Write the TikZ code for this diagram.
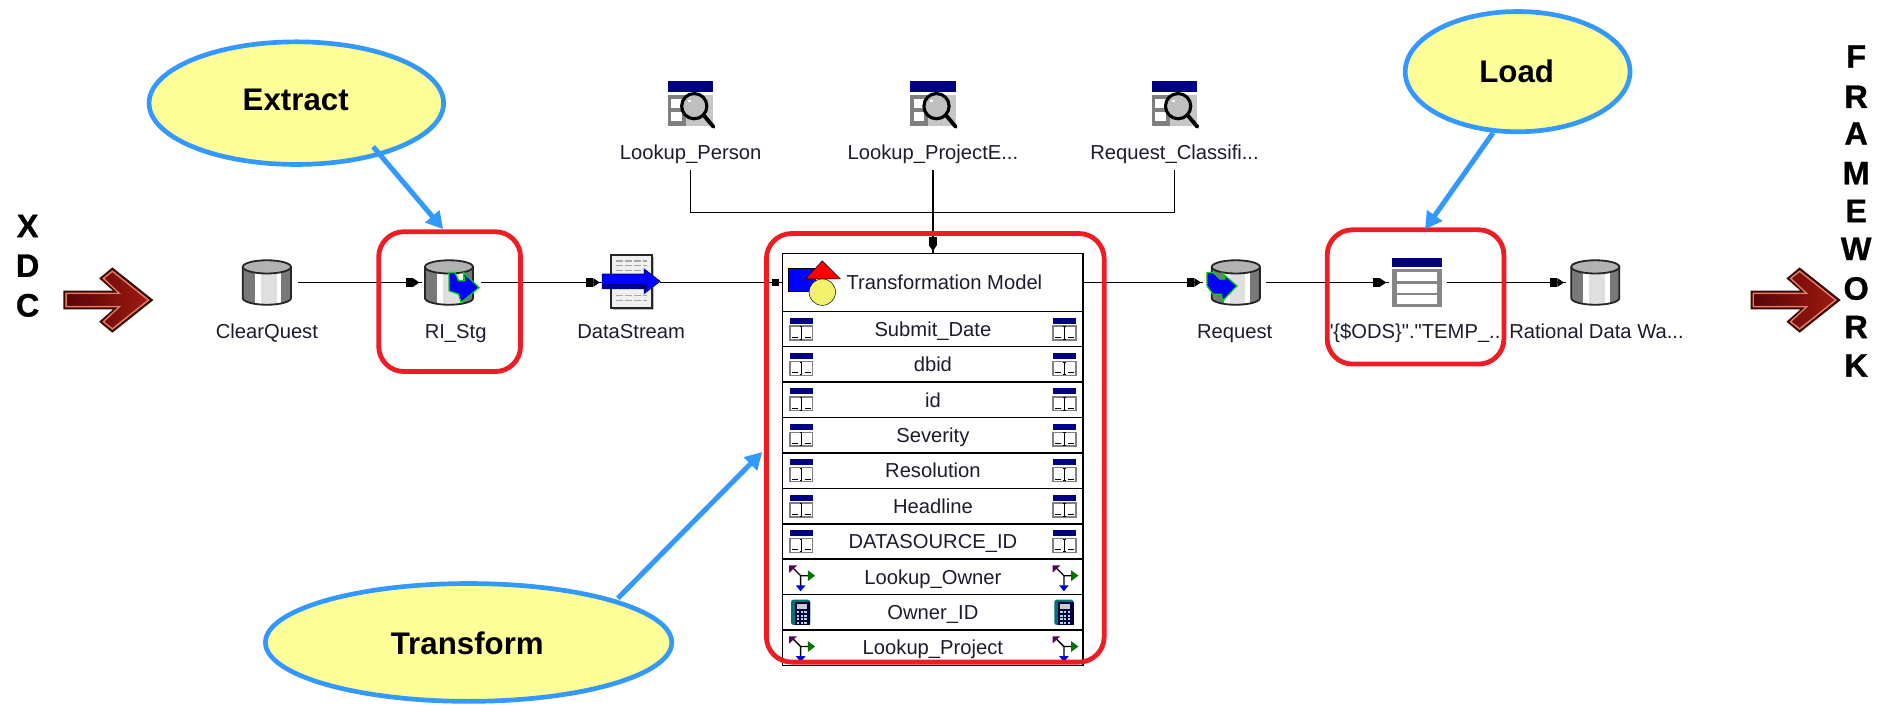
\documentclass[tikz,border=0pt]{standalone}
\usepackage{fontspec}
\setmainfont{Liberation Sans}[Ligatures=TeXOff]
\newfontfamily\heavyface{Liberation Sans}[Ligatures=TeXOff,BoldFeatures={FakeBold=0.8}]
\usetikzlibrary{shapes.geometric,arrows.meta,decorations.markings,calc}
\definecolor{navbar}{HTML}{000080}
\definecolor{callblue}{HTML}{3399FF}
\definecolor{callfill}{HTML}{FFFF99}
\definecolor{redbox}{HTML}{EE1C25}
\definecolor{labelink}{HTML}{1C1C2C}
\definecolor{maroonA}{HTML}{5A0408}
\definecolor{maroonB}{HTML}{9A1A10}
\definecolor{maroonE}{HTML}{3A0A00}
\definecolor{salmon}{HTML}{E87C68}
\tikzset{
  x=1pt,y=-1pt,
  iconnode/.style={inner sep=0,outer sep=0,minimum height=38},
  lbl/.style={font=\fontsize{16.8}{18}\selectfont,text=labelink,inner sep=0,outer sep=0,minimum height=28,text height=13,text depth=2},
  rowlbl/.style={font=\fontsize{16.8}{18}\selectfont,text=labelink,inner sep=0,text height=13,text depth=1},
  callout/.style={ellipse,draw=callblue,fill=callfill,line width=3.9,inner sep=0},
  calltext/.style={font=\fontsize{26}{28}\selectfont\bfseries},
  callarrow/.style={draw=callblue,line width=4.2,-{Triangle[length=14,width=15]}},
  redframe/.style={draw=redbox,line width=4,rounded corners=21,inner sep=0},
  letter/.style={font=\fontsize{27}{28}\heavyface\bfseries,inner sep=0},
  tipmark/.style={postaction={decorate,decoration={markings,mark=at position -0.5pt with {
     \fill[black] (-13,-3.6) rectangle (-7,3.6);
     \fill[black] (-7,-3.6) -- (-1.5,0) -- (-7,3.6) -- cycle;}}}},
  shortmark/.style={postaction={decorate,decoration={markings,mark=at position -3pt with {
     \fill[black] (-6,-3) rectangle (0,3);}}}},
  conn/.style={draw=black,line width=1.2},
  rowcell/.style={draw=black,line width=1.2,minimum width=250,minimum height=29.45,inner sep=0,outer sep=0},
  bigarrow/.pic={
    \path[left color=maroonA,right color=maroonB,draw=maroonE,line width=2.6,line join=miter]
      (-71.5,-6.5) -- (-28,-6.5) -- (-41,-18) -- (-32,-25.5) -- (0,0) -- (-32,25.5) -- (-41,18) -- (-28,6.5) -- (-71.5,6.5) -- cycle;
    \draw[salmon,line width=1.2]
      (-70.5,-5.5) -- (-26,-5.5) -- (-39.5,-18) -- (-32,-24) -- (-2,0) -- (-32,24) -- (-39.5,18) -- (-26,5.5) -- (-70.5,5.5) -- cycle;
    \path[left color=maroonA,right color=maroonB] (-69.5,-4.5) -- (-24,-4.5) -- (-38,-18) -- (-32,-22.5) -- (-4,0) -- (-32,22.5) -- (-38,18) -- (-24,4.5) -- (-69.5,4.5) -- cycle;
  },
  cylicon/.pic={
    \fill[gray!95!black] (-20,-13) -- (-20,13) arc[x radius=20,y radius=-5.5,start angle=180,end angle=360] -- (20,-13) -- cycle;
    \fill[white] (-10,-8) rectangle (-5,17.5);
    \fill[gray!25] (-5,-8) rectangle (8,18.5);
    \fill[white] (8,-8) rectangle (12,17);
    \draw[black!85,line width=1.5] (-20,-13) -- (-20,13) arc[x radius=20,y radius=-5.5,start angle=180,end angle=360] -- (20,-13);
    \draw[black!85,line width=1.5,fill=gray!60] (0,-13) ellipse[x radius=20,y radius=5.5];
  },
  outarrow/.pic={
    \draw[green!85!black,line width=1,fill=blue] (0,-8.3) -- (5,-8.3) -- (8,-1.5) -- (13,-1.5) -- (12,-8.3) -- (25,4.2) -- (10,16.7) -- (8,9.7) -- (0,7) -- cycle;
  },
  inarrow/.pic={
    \draw[green!85!black,line width=1,fill=blue] (-24,-8.3) -- (-19,-8.3) -- (-13,-2.8) -- (-9,-2.8) -- (-11,-7.5) -- (1,2.8) -- (-11,15.3) -- (-12,9.7) -- (-19,9.7) -- (-24,2.8) -- cycle;
  },
  streamicon/.pic={
    \fill[gray!55] (-15,-21) rectangle (19,23);
    \draw[black!85,line width=1.6,fill=gray!12] (-17,-23) rectangle (17,21);
    \foreach \yy in {-18,-14,-10,11,15} {\draw[gray!70,line width=1.2,dash pattern=on 6 off 1.5] (-13,\yy) -- (13,\yy);}
    \draw[blue!60!black,line width=.8,fill=blue] (-24,-7) -- (11,-7) -- (11,-11) -- (24,-1) -- (11,9) -- (11,5) -- (-24,5) -- cycle;
    \fill[blue!55!black] (-24,1) -- (13,1) -- (13,5) -- (-24,5) -- cycle;
  },
  lookicon/.pic={
    \fill[navbar] (-19,-20) rectangle (19,-10.8);
    \fill[gray!45] (-19,-8) rectangle (19,17.5);
    \fill[gray] (-19,-8) rectangle (-4,17.5);
    \fill[white] (-16,-5) rectangle (-7,2.5);
    \fill[white] (-16,6) rectangle (-7,14);
    \fill[gray!45] (-4,-8) rectangle (19,17.5);
    \draw[black,line width=3.2,line cap=round] (11,9) -- (19,18.5);
    \draw[black,line width=2.6,fill=gray!50] (3,1.3) circle[radius=10.5];
    \fill[white] (-2,-4) rectangle (0,-2);
  },
  tableicon/.pic={
    \fill[navbar] (-20.4,-20.3) rectangle (20.4,-12.5);
    \fill[gray!95] (-20.4,-11) rectangle (20.4,20);
    \fill[white] (-17,-9) rectangle (17,-1.5);
    \fill[white] (-17,1.3) rectangle (17,8.4);
    \fill[white] (-17,10.6) rectangle (17,17.9);
  },
  colicon/.pic={
    \fill[navbar] (-9.5,-9.5) rectangle (9.5,-4.5);
    \draw[gray,line width=1.2,fill=white] (-9.5,-2.5) rectangle (9.5,9);
    \draw[black,line width=.8] (-1,-2) -- (1,-2) (0,-2) -- (0,8.5) (-1,8.5) -- (1,8.5) (-8,7) -- (-3,7) (3,7) -- (8,7);
  },
  lookrow/.pic={
    \draw[black,line width=1.1] (-7,-8) -- (0,-1) -- (8,-1) (0,-1) -- (0,8);
    \fill[violet!70!black] (-9.5,-9.5) -- (-3,-9.5) -- (-9.5,-3.5) -- cycle;
    \fill[green!45!black] (6,-5.5) -- (12,-1) -- (6,3.5) -- cycle;
    \fill[blue!85!black] (-4,7) -- (4,7) -- (0,12) -- cycle;
  },
  calcicon/.pic={
    \fill[teal!90!black,rounded corners=2] (-8,-10.5) rectangle (8,10.5);
    \fill[blue!25!black] (-5,-8.5) rectangle (8,10.5);
    \fill[gray!40] (-3,-7) rectangle (5,-3);
    \foreach \yy in {-1,2,5,8} {\foreach \xx in {-3,0,3} {\fill[teal!30] (\xx,\yy) rectangle ++(2,1.6);}}
  }
}
\begin{document}
\begin{tikzpicture}
\useasboundingbox (0,0) rectangle (1568,586);
\fill[white] (0,0) rectangle (1568,586);

% side letters
\foreach \t/\yy [count=\i] in {X/188,D/221,C/254} {\node[letter] (xdc\i) at (23,\yy) {\t};}
\foreach \t/\yy [count=\i] in {F/47,R/80.5,A/111,M/144,E/175.5,W/207,O/240,R/272,K/304} {\node[letter] (fw\i) at (1544,\yy) {\t};}
\pic at (125.5,249.6) {bigarrow};
\pic at (1529,249.6) {bigarrow};

% icon nodes
\node[iconnode,minimum width=52] (cq) at (222,235) {};
\node[iconnode,minimum width=49] (ri) at (375.5,235) {};
\node[iconnode,minimum width=48] (ds) at (525,235) {};
\node[iconnode,minimum width=52] (rq) at (1027,235) {};
\node[iconnode,minimum width=48.6] (ods) at (1179.5,235) {};
\node[iconnode,minimum width=48] (rd) at (1327,235) {};
\node[iconnode,minimum width=40] (lk1) at (574.5,87) {};
\node[iconnode,minimum width=40] (lk2) at (776,87) {};
\node[iconnode,minimum width=40] (lk3) at (977,87) {};

% labels
\node[lbl] (cql) at (222,276) {ClearQuest};
\node[lbl] (ril) at (379,276) {RI\_Stg};
\node[lbl] (dsl) at (525,276) {DataStream};
\node[lbl] (rql) at (1027,276) {Request};
\node[lbl] (odl) at (1178,276) {"\{\$ODS\}"."TEMP\_...};
\node[lbl] (rdl) at (1328,276) {Rational Data Wa...};
\node[lbl] (lp1) at (574.5,127) {Lookup\_Person};
\node[lbl] (lp2) at (776,127) {Lookup\_ProjectE...};
\node[lbl] (lp3) at (977,127) {Request\_Classifi...};

% transformation model
\node[rowcell,minimum height=48] (th) at (776,235) {};
\foreach \t [count=\i] in {Submit\_Date,dbid,id,Severity,Resolution,Headline,DATASOURCE\_ID,Lookup\_Owner,Owner\_ID,Lookup\_Project} {
  \node[rowcell] (row\i) at (776,{259+29.45*(\i-0.5)}) {};
  \node[rowlbl] (rowtext\i) at (row\i.center) {\t};
}
\node[rowlbl,anchor=west] (tmt) at (704,235) {Transformation Model};
\fill[blue] (656,223) rectangle (678,242);
\draw[black] (656,223) rectangle (678,242);
\draw[black,fill=callfill!70!yellow!90!gray] (684,243) circle[radius=11];
\draw[black,fill=red] (684,217) -- (699,232) -- (670,232) -- cycle;

\foreach \i in {1,...,7} {
  \pic at ($(row\i.center)+(-109.5,0)$) {colicon};
  \pic at ($(row\i.center)+(109.5,0)$) {colicon};
}
\foreach \i in {8,10} {
  \pic at ($(row\i.center)+(-110,0)$) {lookrow};
  \pic at ($(row\i.center)+(109,0)$) {lookrow};
}
\pic at ($(row9.center)+(-110,0)$) {calcicon};
\pic at ($(row9.center)+(109,0)$) {calcicon};

% connectors
\draw[conn,tipmark] (cq.east) -- (ri.west);
\draw[conn,tipmark] (ri.east) -- (ds.west);
\draw[conn,shortmark] (ds.east) -- (th.west);
\draw[conn,tipmark] (th.east) -- (rq.west);
\draw[conn,tipmark] (rq.east) -- (ods.west);
\draw[conn,tipmark] (ods.east) -- (rd.west);
\coordinate (bus) at (776,176.6);
\draw[conn] (lp1.south) |- (bus);
\draw[conn] (lp3.south) |- (bus);
\draw[conn,tipmark] (lp2.south) -- (th.north);

% icons
\pic at (222,235) {cylicon};
\pic at (373.5,235) {cylicon};
\pic at (373.5,235) {outarrow};
\pic at (ds) {streamicon};
\pic at (1028,235) {cylicon};
\pic at (1028,235) {inarrow};
\pic at (1178.7,235) {tableicon};
\pic at (rd) {cylicon};
\pic at (lk1) {lookicon};
\pic at (lk2) {lookicon};
\pic at (lk3) {lookicon};

% red frames
\node[redframe,minimum width=118,minimum height=116.3] (rb1) at (374,250.9) {};
\node[redframe,minimum width=281,minimum height=356.5] (rb2) at (778,372.5) {};
\node[redframe,minimum width=147,minimum height=111.7] (rb3) at (1177.5,247) {};

% callouts
\node[callout,minimum width=245,minimum height=102] (ext) at (246.5,85.8) {};
\node[calltext] (extt) at (246,83.5) {Extract};
\node[callout,minimum width=338,minimum height=98] (trf) at (389.8,534.4) {};
\node[calltext] (trft) at (388.7,535) {Transform};
\node[callout,minimum width=187,minimum height=100] (lod) at (1262.4,59.6) {};
\node[calltext] (lodt) at (1261.6,59) {Load};
\coordinate (t1) at (368.6,190.6);
\coordinate (t2) at (634,376);
\coordinate (t3) at (1185.4,190.7);
\draw[callarrow] ($(ext.center)+(63.9,36.2)$) -- (t1);
\draw[callarrow] ($(trf.center)+(124.2,-36.8)$) -- (t2);
\draw[callarrow] ($(lod.center)+(-20.4,50.8)$) -- (t3);
\end{tikzpicture}
\end{document}
